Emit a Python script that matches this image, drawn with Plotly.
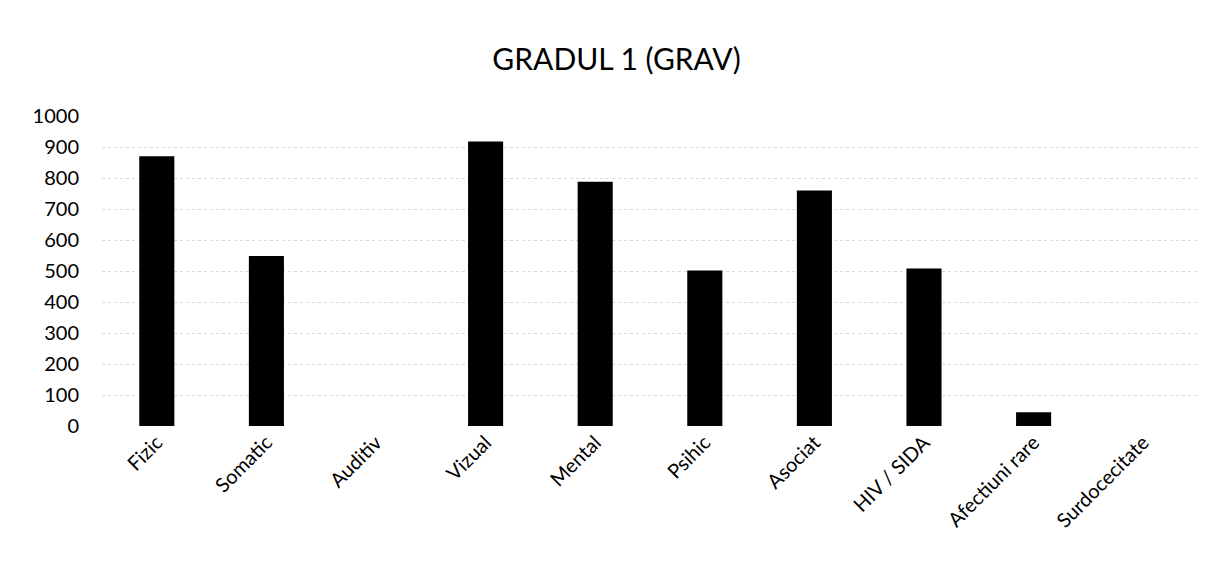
import plotly.graph_objects as go

categories = ["Fizic", "Somatic", "Auditiv", "Vizual", "Mental", "Psihic",
              "Asociat", "HIV / SIDA", "Afectiuni rare", "Surdocecitate"]
values = [870, 548, 0, 918, 788, 502, 760, 508, 44, 0]
y_ticks = [0, 100, 200, 300, 400, 500, 600, 700, 800, 900, 1000]

fig = go.Figure(go.Bar(
    x=categories, y=values, width=0.32,
    marker=dict(color="black", line=dict(color="black", width=0)),
))

fig.update_layout(
    width=1191, height=546,
    paper_bgcolor="white", plot_bgcolor="white",
    margin=dict(l=94, r=1, t=108, b=128),
    font=dict(family="Lato, Open Sans, sans-serif", color="black", size=17),
    title=dict(text="GRADUL 1 (GRAV)", x=0.511, xanchor="center", y=0.905, yanchor="middle",
               font=dict(size=30, color="black")),
    showlegend=False,
)
fig.update_yaxes(range=[0, 1000], tickvals=y_ticks, showgrid=True,
                 gridcolor="#d9d9d9", griddash="dot", gridwidth=1,
                 zeroline=False, showline=False, ticks="", ticklabelstandoff=22,
                 tickfont=dict(size=20))
fig.update_xaxes(tickangle=-45, showgrid=False, showline=False, ticks="",
                 tickfont=dict(size=20))

fig.write_html("out.html")
